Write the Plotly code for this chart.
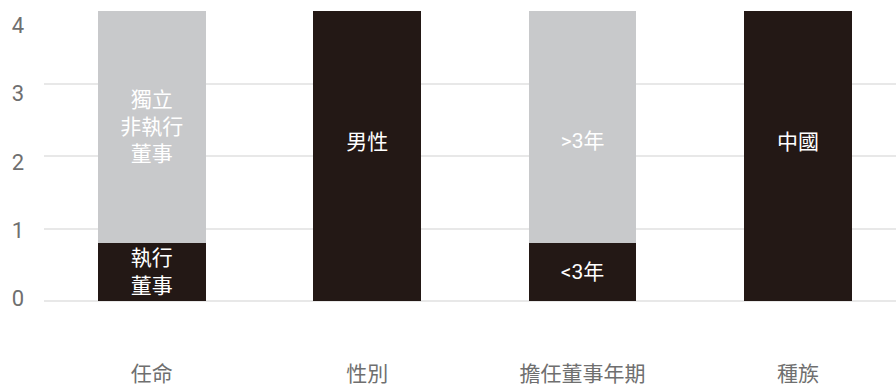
import plotly.graph_objects as go

categories = ["任命", "性別", "擔任董事年期", "種族"]
bottom_values = [0.8, 4, 0.8, 4]
bottom_labels = ["執行<br>董事", "男性<br>&nbsp;", "<3年", "中國<br>&nbsp;"]
top_values = [3.2, 0, 3.2, 0]
top_labels = ["獨立<br>非執行<br>董事", "", "&nbsp;<br>>3年", ""]
y_ticks = [0, 1, 2, 3, 4]

FONT = "Roboto, 'Noto Sans CJK TC', sans-serif"

fig = go.Figure()
fig.add_trace(go.Bar(
    x=categories, y=bottom_values, text=bottom_labels,
    marker=dict(color="#231815", line=dict(width=0)),
    textposition="inside", insidetextanchor="middle", constraintext="none",
    textfont=dict(color="white", size=21, family=FONT),
    hoverinfo="skip", width=0.5,
))
fig.add_trace(go.Bar(
    x=categories, y=top_values, text=top_labels,
    marker=dict(color="#c8c9cb", line=dict(width=0)),
    textposition="inside", insidetextanchor="middle", constraintext="none",
    textfont=dict(color="white", size=21, family=FONT),
    hoverinfo="skip", width=0.5,
))
# invisible helper so the label axis is drawn
fig.add_trace(go.Scatter(x=[categories[0]], y=[0], yaxis="y2", mode="markers",
                         marker=dict(opacity=0), hoverinfo="skip", showlegend=False))

fig.update_layout(
    barmode="stack",
    width=896, height=391,
    margin=dict(l=44, r=0, t=11, b=90),
    paper_bgcolor="white", plot_bgcolor="white",
    showlegend=False,
    uniformtext=dict(mode=False),
    font=dict(family=FONT),
    xaxis=dict(
        range=[-0.5, 3.455], automargin=False,
        showgrid=False, zeroline=False, showline=False, ticks="",
        tickfont=dict(size=21, color="#6f6f6f", family=FONT),
        ticklabelstandoff=58,
    ),
    yaxis=dict(
        range=[0, 4], tickvals=y_ticks, showticklabels=False, automargin=False,
        showgrid=True, gridcolor="#e8e8e8", gridwidth=2,
        zeroline=True, zerolinecolor="#e8e8e8", zerolinewidth=2,
        showline=False, ticks="",
    ),
    yaxis2=dict(
        overlaying="y", side="left", range=[-0.034, 4.209], tickvals=y_ticks,
        automargin=False, showgrid=False, zeroline=False, showline=False, ticks="",
        tickfont=dict(size=22, color="#6f6f6f", family=FONT),
        ticklabelstandoff=19,
    ),
)

fig.write_html("out.html", config={"displayModeBar": False},
               post_script="document.body.style.margin='0';")
